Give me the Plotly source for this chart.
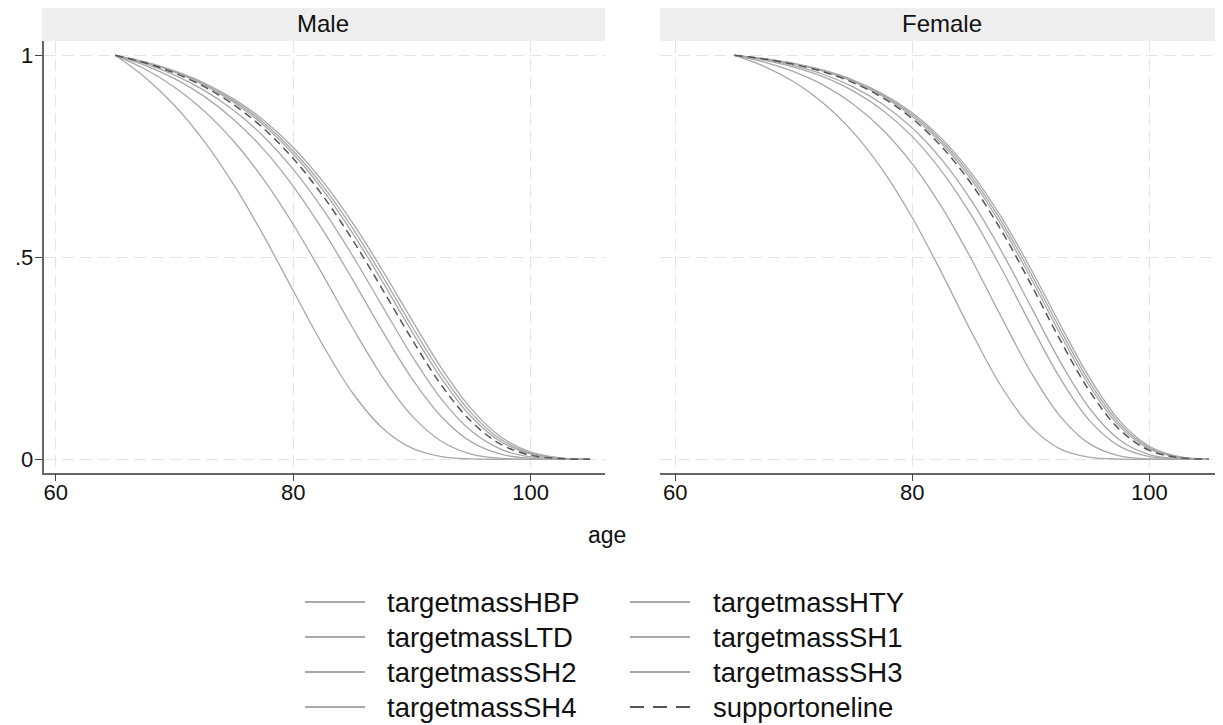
import plotly.graph_objects as go

W, H = 1223, 725
OFF = 8  # page body margin compensation
FW, FH = W - OFF, H - OFF

AGES = [65, 67.5, 70, 72.5, 75, 77.5, 80, 82.5, 85, 87.5, 90, 92.5, 95, 97.5, 100, 102.5, 105]

# Male panel
male_SH4 = [1, 0.9458, 0.8757, 0.7871, 0.6791, 0.5536, 0.4172, 0.2821, 0.1641, 0.0776, 0.0275, 0.0065, 0.0009, 0.0001, 0, 0, 0]
male_SH3 = [1, 0.9660, 0.9209, 0.8619, 0.7865, 0.6928, 0.5812, 0.4559, 0.3257, 0.2046, 0.1074, 0.0440, 0.0128, 0.0023, 0.0002, 0, 0]
male_SH2 = [1, 0.9753, 0.9422, 0.8983, 0.8407, 0.7671, 0.6758, 0.5671, 0.4448, 0.3179, 0.1996, 0.1048, 0.0430, 0.0125, 0.0023, 0.0002, 0]
male_SH1 = [1, 0.9791, 0.9509, 0.9132, 0.8635, 0.7991, 0.7178, 0.6188, 0.5038, 0.3792, 0.2557, 0.1483, 0.0698, 0.0246, 0.0058, 0.0008, 0.0001]
male_support = [1, 0.9814, 0.9561, 0.9223, 0.8774, 0.8189, 0.7443, 0.6520, 0.5430, 0.4215, 0.2968, 0.1826, 0.0934, 0.0368, 0.0102, 0.0017, 0.0001]
male_HBP = [1, 0.9823, 0.9583, 0.9261, 0.8833, 0.8273, 0.7556, 0.6664, 0.5601, 0.4405, 0.3158, 0.1992, 0.1054, 0.0436, 0.0129, 0.0024, 0.0002]
male_HTY = [1, 0.9829, 0.9598, 0.9287, 0.8873, 0.8330, 0.7633, 0.6764, 0.5721, 0.4539, 0.3294, 0.2113, 0.1144, 0.0489, 0.0151, 0.0030, 0.0003]
male_LTD = [1, 0.9836, 0.9614, 0.9315, 0.8915, 0.8391, 0.7717, 0.6871, 0.5851, 0.4686, 0.3444, 0.2249, 0.1248, 0.0552, 0.0178, 0.0037, 0.0004]

# Female panel
female_SH4 = [1, 0.9728, 0.9345, 0.8816, 0.8098, 0.7157, 0.5979, 0.4603, 0.3145, 0.1808, 0.0808, 0.0250, 0.0045, 0.0004, 0, 0, 0]
female_SH3 = [1, 0.9834, 0.9596, 0.9261, 0.8794, 0.8157, 0.7311, 0.6234, 0.4945, 0.3530, 0.2161, 0.1058, 0.0375, 0.0083, 0.0009, 0.0001, 0]
female_SH2 = [1, 0.9880, 0.9708, 0.9464, 0.9119, 0.8639, 0.7986, 0.7122, 0.6030, 0.4734, 0.3328, 0.1993, 0.0945, 0.0319, 0.0066, 0.0007, 0]
female_SH1 = [1, 0.9894, 0.9742, 0.9525, 0.9218, 0.8788, 0.8199, 0.7411, 0.6398, 0.5167, 0.3785, 0.2406, 0.1245, 0.0478, 0.0118, 0.0016, 0.0001]
female_support = [1, 0.9909, 0.9778, 0.9591, 0.9324, 0.8950, 0.8432, 0.7731, 0.6814, 0.5671, 0.4341, 0.2942, 0.1671, 0.0734, 0.0221, 0.0039, 0.0003]
female_HBP = [1, 0.9913, 0.9787, 0.9607, 0.9350, 0.8989, 0.8489, 0.7811, 0.6918, 0.5801, 0.4487, 0.3089, 0.1794, 0.0814, 0.0258, 0.0048, 0.0004]
female_HTY = [1, 0.9915, 0.9793, 0.9619, 0.9370, 0.9019, 0.8532, 0.7871, 0.6998, 0.5900, 0.4601, 0.3204, 0.1892, 0.0880, 0.0289, 0.0057, 0.0005]
female_LTD = [1, 0.9918, 0.9800, 0.9630, 0.9389, 0.9049, 0.8576, 0.7931, 0.7079, 0.6000, 0.4717, 0.3323, 0.1996, 0.0951, 0.0323, 0.0067, 0.0007]

SERIES_NAMES = ["targetmassHBP", "targetmassHTY", "targetmassLTD", "targetmassSH1",
                "targetmassSH2", "targetmassSH3", "targetmassSH4", "supportoneline"]
PANELS = ["Male", "Female"]
X_TICKS = [60, 80, 100]
Y_TICKS = [0, 0.5, 1]
Y_TICK_TEXT = ["0", ".5", "1"]
X_TITLE = "age"

male = {"targetmassHBP": male_HBP, "targetmassHTY": male_HTY, "targetmassLTD": male_LTD,
        "targetmassSH1": male_SH1, "targetmassSH2": male_SH2, "targetmassSH3": male_SH3,
        "targetmassSH4": male_SH4, "supportoneline": male_support}
female = {"targetmassHBP": female_HBP, "targetmassHTY": female_HTY, "targetmassLTD": female_LTD,
          "targetmassSH1": female_SH1, "targetmassSH2": female_SH2, "targetmassSH3": female_SH3,
          "targetmassSH4": female_SH4, "supportoneline": female_support}

FONT = "Liberation Sans, Arial, sans-serif"
SOLID = "#a8a8a8"
DASHC = "#555555"
DASH_PAT = "8px,5px"

fig = go.Figure()
for data, xa, ya in [(male, "x", "y"), (female, "x2", "y2")]:
    for name in SERIES_NAMES:
        dashed = name == "supportoneline"
        fig.add_trace(go.Scatter(
            x=AGES, y=data[name], mode="lines", name=name, showlegend=False,
            xaxis=xa, yaxis=ya,
            line=dict(color=DASHC if dashed else SOLID, width=1.5 if dashed else 1.3,
                      dash=DASH_PAT if dashed else "solid", shape="spline", smoothing=1.0),
        ))


def px(x):
    return (x - OFF) / FW


def py(y):
    return 1 - (y - OFF) / FH


y_dom = [py(472.5), py(41)]
grid = dict(showgrid=True, gridcolor="#e4e4e4", gridwidth=1, griddash="12px,6px", zeroline=False)
tickf = dict(family=FONT, size=22, color="#111111")
xcommon = dict(tickvals=X_TICKS, ticks="outside", ticklen=7, tickwidth=1.3, tickcolor="#444444",
               showline=True, linecolor="#666666", linewidth=1.6, tickfont=tickf,
               ticklabelstandoff=-8, **grid)

fig.update_layout(
    width=FW, height=FH, autosize=False,
    margin=dict(l=0, r=0, t=0, b=0),
    paper_bgcolor="white", plot_bgcolor="white",
    showlegend=False,
    font=dict(family=FONT, color="#111111"),
    xaxis=dict(domain=[px(43.5), px(605)], range=[58.96, 106.26], **xcommon),
    xaxis2=dict(domain=[px(660), 1.0], range=[58.71, 106.22], **xcommon),
    yaxis=dict(domain=y_dom, range=[-0.0327, 1.0354], tickvals=Y_TICKS, ticktext=Y_TICK_TEXT,
               ticks="outside", ticklen=7, tickwidth=1.3, tickcolor="#444444",
               showline=True, linecolor="#666666", linewidth=1.6, tickfont=tickf,
               ticklabelstandoff=-3, **grid),
    yaxis2=dict(domain=y_dom, range=[-0.0327, 1.0354], tickvals=Y_TICKS, anchor="x2",
                showticklabels=False, ticks="", showline=False, **grid),
)

shapes = []
annotations = []
# facet strips
for (x0, x1), label in zip([(41.5, 605), (660, 1223)], PANELS):
    shapes.append(dict(type="rect", xref="paper", yref="paper", x0=px(x0), x1=px(x1),
                       y0=py(41), y1=py(5), fillcolor="#efefef", line=dict(width=0), layer="below"))
    annotations.append(dict(text=label, xref="paper", yref="paper", x=px((x0 + x1) / 2), y=py(24),
                            showarrow=False, xanchor="center", yanchor="middle",
                            font=dict(family=FONT, size=24, color="#111111")))

# x-axis title
annotations.append(dict(text=X_TITLE, xref="paper", yref="paper", x=px(607), y=py(535),
                        showarrow=False, xanchor="center", yanchor="middle",
                        font=dict(family=FONT, size=23, color="#111111")))

# legend (2 columns, filled row-wise)
rows_y = [602, 637, 672, 707]
cols = [(305, 365, 385), (630, 690, 711)]
for i, name in enumerate(SERIES_NAMES):
    r, c = divmod(i, 2)
    lx0, lx1, tx = cols[c]
    yy = rows_y[r]
    dashed = name == "supportoneline"
    shapes.append(dict(type="line", xref="paper", yref="paper", x0=px(lx0), x1=px(lx1),
                       y0=py(yy), y1=py(yy),
                       line=dict(color=DASHC if dashed else SOLID, width=2 if dashed else 1.8,
                                 dash="14px,9px" if dashed else "solid")))
    annotations.append(dict(text=name, xref="paper", yref="paper", x=px(tx), y=py(yy),
                            showarrow=False, xanchor="left", yanchor="middle",
                            font=dict(family=FONT, size=27.5, color="#111111")))

fig.update_layout(shapes=shapes, annotations=annotations)
fig.write_html("out.html")
